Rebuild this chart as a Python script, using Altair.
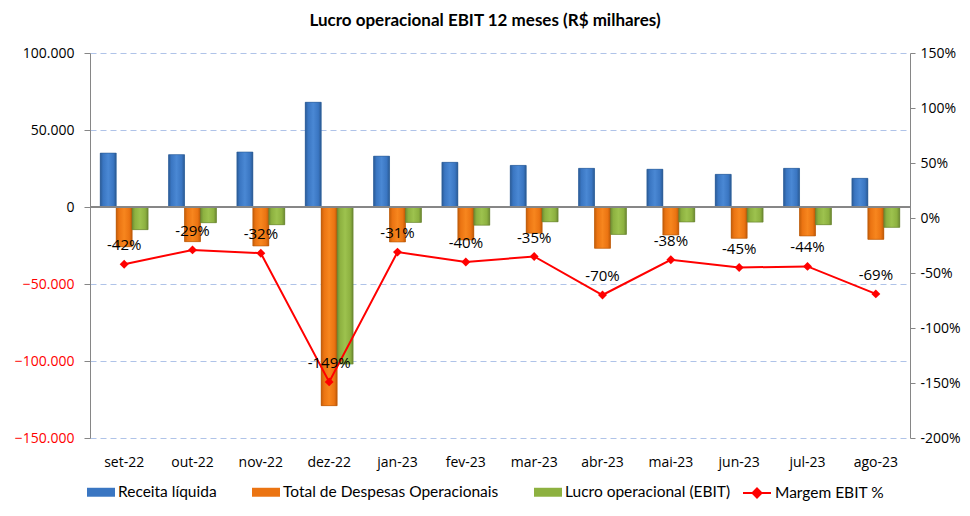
import altair as alt
import pandas as pd

months = ["set-22", "out-22", "nov-22", "dez-22", "jan-23", "fev-23",
          "mar-23", "abr-23", "mai-23", "jun-23", "jul-23", "ago-23"]
receita = [35000, 34000, 35700, 68000, 33000, 29000, 27000, 25100, 24500, 21200, 25100, 18600]
despesas = [-25800, -22500, -25300, -129000, -22700, -21400, -17000, -26800, -18200, -20300, -18800, -21000]
lucro = [-14700, -10200, -11500, -102000, -10000, -11800, -9600, -17800, -9700, -9800, -11500, -13200]
margem = [-42, -29, -32, -149, -31, -40, -35, -70, -38, -45, -44, -69]

series_names = ["Receita líquida", "Total de Despesas Operacionais", "Lucro operacional (EBIT)"]
series_colors = ["#3A76C2", "#EB7412", "#8DB140"]
grad_stops = [
    ["#2B5B96", "#3A76C2", "#4A88D4", "#3A76C2", "#2A5A94"],
    ["#C45E0A", "#EB7412", "#F7861E", "#EB7412", "#C05A08"],
    ["#6F8C34", "#8DB140", "#9DC24E", "#8DB140", "#6C8832"],
]
edge_colors = ["#2A5A94", "#B65808", "#667F2F"]
line_name = "Margem EBIT %"

rows = []
for i, m in enumerate(months):
    for s, vals in zip(series_names, [receita, despesas, lucro]):
        rows.append({"mes": m, "serie": s, "valor": vals[i]})
bars_df = pd.DataFrame(rows)
line_df = pd.DataFrame({
    "mes": months,
    "margem": margem,
    "label": [f"{v}%" for v in margem],
    "serie2": [line_name] * len(months),
})

x_enc = alt.X(
    "mes:N", sort=months,
    scale=alt.Scale(paddingInner=0.3, paddingOuter=0.15),
    axis=alt.Axis(title=None, labelAngle=0, domain=False, ticks=False, tickSize=0,
                  labelPadding=17, labelFont="Open Sans", labelFontSize=14,
                  labelColor="#000000", labelBaseline="top"),
)
xo_enc = alt.XOffset("serie:N", sort=series_names,
                     scale=alt.Scale(domain=series_names, paddingInner=0, paddingOuter=0))

left_axis = alt.Axis(
    title=None,
    values=[-150000, -100000, -50000, 0, 50000, 100000],
    labelExpr="replace(format(datum.value, ','), ',', '.')",
    labelColor={"condition": {"test": "datum.value < 0", "value": "#FF0000"}, "value": "#000000"},
    labelFont="Open Sans", labelFontSize=14, labelPadding=10,
    grid=True, gridDash=[6, 4], gridColor="#AFC3E8", gridWidth=1,
    domainColor="#868686", tickColor="#868686", tickSize=6,
)
y_left = alt.Y("valor:Q", scale=alt.Scale(domain=[-150000, 100000], nice=False, zero=False), axis=left_axis)

right_axis = alt.Axis(
    title=None, orient="right",
    values=list(range(-200, 151, 50)),
    labelExpr="datum.value + '%'",
    labelColor="#000000", labelFont="Open Sans", labelFontSize=14, labelPadding=5,
    grid=False, domainColor="#868686", tickColor="#868686", tickSize=5,
)
y_right = alt.Y("margem:Q", scale=alt.Scale(domain=[-200, 150], nice=False, zero=False), axis=right_axis)

base_bars = alt.Chart(bars_df).mark_bar().encode(
    x=x_enc, xOffset=xo_enc, y=y_left,
    color=alt.Color(
        "serie:N", sort=series_names,
        scale=alt.Scale(domain=series_names, range=series_colors),
        legend=alt.Legend(
            title=None, orient="none", legendX=-3, legendY=425,
            direction="horizontal", columns=3, columnPadding=35,
            symbolType="M-1,-0.32H1V0.32H-1Z", symbolSize=784, symbolStrokeWidth=0,
            labelFont="Lato", labelFontSize=15.5, labelOffset=3, labelColor="#000000",
            labelLimit=400,
        ),
    ),
)

overlays = []
for s, stops, edge in zip(series_names, grad_stops, edge_colors):
    grad = alt.LinearGradient(
        gradient="linear", x1=0, x2=1, y1=0, y2=0,
        stops=[alt.GradientStop(color=c, offset=o) for c, o in zip(stops, [0, 0.18, 0.5, 0.82, 1])],
    )
    overlays.append(
        alt.Chart(bars_df).transform_filter(alt.datum.serie == s)
        .mark_bar(color=grad, stroke=edge, strokeWidth=0.6)
        .encode(x=x_enc, xOffset=xo_enc, y=y_left)
    )

zero_rule = alt.Chart(bars_df).mark_rule(color="#868686", strokeWidth=1).encode(y=alt.datum(0))

left = alt.layer(base_bars, *overlays, zero_rule)

line = alt.Chart(line_df).mark_line(strokeWidth=2).encode(
    x=x_enc, y=y_right,
    stroke=alt.Stroke(
        "serie2:N",
        scale=alt.Scale(domain=[line_name], range=["#FF0000"]),
        legend=alt.Legend(
            title=None, orient="none", legendX=652, legendY=425,
            symbolType="M-1,0H1M0,-0.32L0.32,0L0,0.32L-0.32,0Z", symbolSize=784,
            symbolFillColor="#FF0000", symbolStrokeWidth=2,
            labelFont="Lato", labelFontSize=15.5, labelOffset=3, labelColor="#000000",
        ),
    ),
)
points = alt.Chart(line_df).mark_point(shape="diamond", filled=True, color="#FF0000",
                                       size=80, opacity=1).encode(x=x_enc, y=y_right)
labels = alt.Chart(line_df).mark_text(dy=-19, fontSize=15, font="Open Sans", color="#000000").encode(
    x=x_enc, y=y_right, text="label:N")

right = alt.layer(line, points, labels)

chart = alt.layer(left, right).resolve_scale(y="independent").properties(
    width=820, height=385,
    title=alt.Title("Lucro operacional  EBIT 12 meses (R$ milhares)", font="Lato", fontSize=17,
                    fontWeight="bold", color="#000000", offset=16, dx=-15, anchor="middle"),
    padding={"left": 82, "top": 45, "right": 52, "bottom": 64},
    autosize=alt.AutoSizeParams(type="none"),
).configure_view(stroke=None)

chart.save("out.html", embed_options={"renderer": "svg", "actions": False})
